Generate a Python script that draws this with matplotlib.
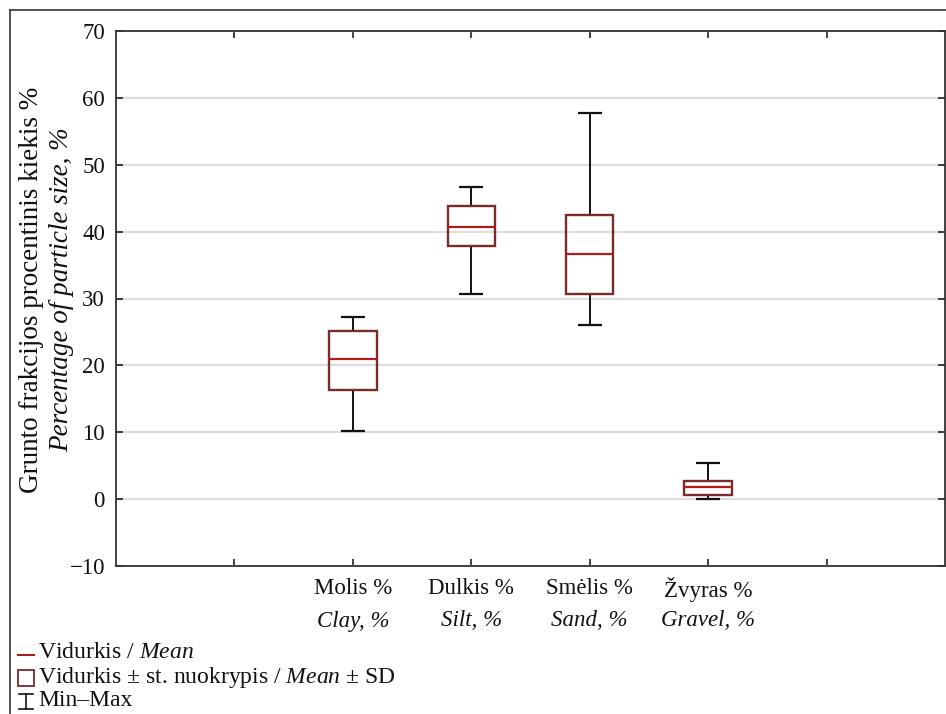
import matplotlib
matplotlib.use('Agg')
import matplotlib.pyplot as plt
from matplotlib.lines import Line2D
from matplotlib.patches import Rectangle
import matplotlib.transforms as mtransforms

plt.rcParams['font.family'] = ['Liberation Serif', 'DejaVu Serif']
plt.rcParams['mathtext.fontset'] = 'custom'
plt.rcParams['mathtext.rm'] = 'Liberation Serif'
plt.rcParams['mathtext.it'] = 'Liberation Serif:italic'

# data
labels_lt = ['Molis %', 'Dulkis %', 'Smėlis %', 'Žvyras %']
labels_en = ['Clay, %', 'Silt, %', 'Sand, %', 'Gravel, %']
positions = [2, 3, 4, 5]
means = [20.9, 40.7, 36.6, 1.8]
sd_low = [16.3, 37.8, 30.7, 0.6]
sd_high = [25.2, 43.9, 42.5, 2.7]
mins = [10.2, 30.7, 26.1, 0.0]
maxs = [27.2, 46.6, 57.8, 5.4]

box_col = '#7a2b2b'
mean_col = '#b01c1c'

fig = plt.figure(figsize=(9.46, 7.14), dpi=100)
W, H = 946, 714
ax = fig.add_axes([116 / W, 1 - 566 / H, (945 - 116) / W, (566 - 31) / H])

# figure frame (top and left)
fig.add_artist(Line2D([9.5 / W, 9.5 / W], [0, 1 - 9.5 / H], color='#444444', lw=1.3))
fig.add_artist(Line2D([9.5 / W, 1], [1 - 9.5 / H, 1 - 9.5 / H], color='#444444', lw=1.3))

ax.set_xlim(0, 7)
ax.set_ylim(-10, 70)
ax.set_yticks(range(-10, 71, 10))
ax.set_yticklabels(['\u221210' if v < 0 else str(v) for v in range(-10, 71, 10)])
ax.set_xticks(range(1, 7))
ax.set_xticklabels([])
ax.tick_params(direction='in', length=5, width=1.2, top=True, right=True,
               labelsize=16.5, colors='#222222', pad=8)
ax.tick_params(axis='y', labelcolor='#111111')
for s in ax.spines.values():
    s.set_color('#333333')
    s.set_linewidth(1.3)
ax.grid(axis='y', color='#dddddd', lw=1.6)
ax.set_axisbelow(True)

bw = 0.4
cw = 0.2
for x, m, lo, hi, mn, mx in zip(positions, means, sd_low, sd_high, mins, maxs):
    ax.vlines(x, hi, mx, color='#111111', lw=1.4, zorder=3)
    ax.vlines(x, mn, lo, color='#111111', lw=1.4, zorder=3)
    ax.hlines([mn, mx], x - cw / 2, x + cw / 2, color='#111111', lw=1.6, zorder=3)
    ax.bar(x, hi - lo, bottom=lo, width=bw, fill=False, edgecolor=box_col, lw=1.7, zorder=4)
    ax.hlines(m, x - bw / 2, x + bw / 2, color=mean_col, lw=1.6, zorder=5)

trans = mtransforms.blended_transform_factory(ax.transData, fig.transFigure)
for x, lt, en in zip(positions, labels_lt, labels_en):
    fig.text(x, 1 - 589 / H, lt, transform=trans, ha='center', va='center', fontsize=16.5, color='#111111')
    fig.text(x, 1 - 621 / H, en, transform=trans, ha='center', va='center', fontsize=16.5,
             style='italic', color='#111111')

# y axis label (two lines)
fig.text(32 / W, 1 - 290 / H, 'Grunto frakcijos procentinis kiekis %', rotation=90,
         ha='center', va='center', fontsize=19.5, color='#111111')
fig.text(62 / W, 1 - 290 / H, 'Percentage of particle size, %', rotation=90,
         ha='center', va='center', fontsize=19.5, style='italic', color='#111111')

# legend drawn by hand
fig.add_artist(Line2D([18 / W, 34 / W], [1 - 655 / H] * 2, color=mean_col, lw=1.5))
fig.add_artist(Rectangle((18 / W, 1 - 686 / H), 16 / W, 16 / H, fill=False,
                         edgecolor=box_col, lw=1.3))
fig.add_artist(Line2D([26 / W, 26 / W], [1 - 694 / H, 1 - 709 / H], color='#111111', lw=1.2))
fig.add_artist(Line2D([19 / W, 33 / W], [1 - 694 / H] * 2, color='#111111', lw=1.2))
fig.add_artist(Line2D([19 / W, 33 / W], [1 - 709 / H] * 2, color='#111111', lw=1.2))
fig.text(38 / W, 1 - 652 / H, 'Vidurkis / $\\mathit{Mean}$', va='center', fontsize=17, color='#111111')
fig.text(38 / W, 1 - 677 / H, 'Vidurkis \u00b1 st. nuokrypis / $\\mathit{Mean}$ \u00b1 SD',
         va='center', fontsize=17, color='#111111')
fig.text(38 / W, 1 - 700 / H, 'Min\u2013Max', va='center', fontsize=17, color='#111111')

fig.savefig('out.png', dpi=100)
